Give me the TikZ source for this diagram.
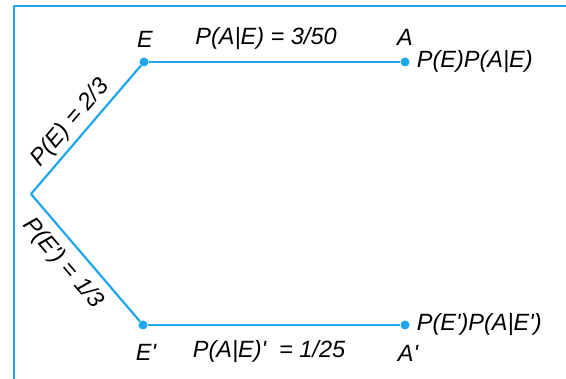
\documentclass[tikz,border=0pt]{standalone}
\usepackage{fontspec}
\setmainfont{Liberation Sans}
\usetikzlibrary{positioning}
\definecolor{treeblue}{RGB}{30,167,235}
\newcommand{\q}{\textquotesingle}

\begin{document}
\begin{tikzpicture}[
    x=1pt, y=1pt,
    font=\fontsize{23.5}{26}\selectfont\itshape,
    branch/.style={draw=treeblue, line width=2.2pt},
    dot/.style={circle, fill=treeblue, inner sep=0pt, minimum size=9pt},
    lbl/.style={inner sep=0pt}
]
\useasboundingbox (0,0) rectangle (566,379);

% open frame
\draw[treeblue, line width=2.2pt] (14,-5) |- (580,373);

\coordinate (root) at (31,185);
\node[dot] (E) at (144,317) {};
\node[dot] (A) at (405,317) {};
\node[dot] (Ep) at (143,54) {};
\node[dot] (Ap) at (405,54) {};

\draw[branch] (root) -- node[pos=0.47, sloped, above, inner sep=4pt] {P(E) = 2/3} (E);
\draw[branch] (root) -- node[pos=0.44, sloped, below, inner sep=9pt] {P(E\q) = 1/3} (Ep);
\draw[branch] (E) -- (A);
\draw[branch] (Ep) -- (Ap);

\node[lbl] at (145,340) {E};
\node[lbl] at (266,340) {P(A|E) = 3/50};
\node[lbl] at (405,342) {A};
\node[lbl, right=7pt of A] {P(E)P(A|E)};

\node[lbl] at (146,27) {E\q};
\node[lbl] at (269,27) {P(A|E)\q\ \ = 1/25};
\node[lbl] at (408,26) {A\q};
\node[lbl, right=7pt of Ap] {P(E\q)P(A|E\q)};
\end{tikzpicture}
\end{document}
